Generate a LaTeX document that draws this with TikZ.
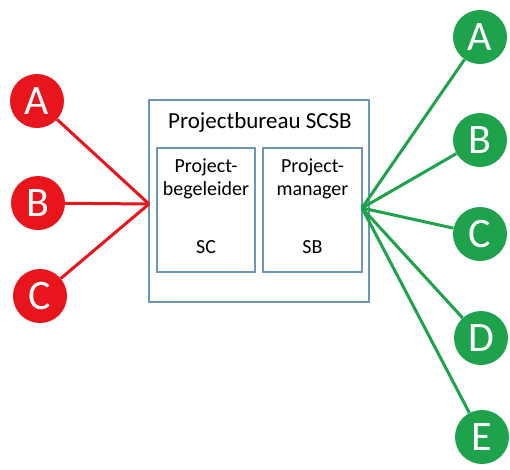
\documentclass[tikz,border=0pt]{standalone}
\usepackage{fontspec}
\setmainfont{Carlito}
\definecolor{rood}{RGB}{232,22,28}
\definecolor{groen}{RGB}{30,163,76}
\definecolor{kader}{RGB}{110,150,185}

\begin{document}
\begin{tikzpicture}[x=1pt,y=-1pt]
\tikzstyle{bol}=[circle, minimum size=54pt, inner sep=0pt, text=white,
	font=\fontsize{42}{42}\selectfont]
\tikzstyle{rbol}=[bol, fill=rood]
\tikzstyle{gbol}=[bol, fill=groen]
\tikzstyle{vak}=[draw=kader, line width=1.5pt, inner sep=0pt]
\tikzstyle{tekst}=[align=center, font=\fontsize{20}{23}\selectfont]
\tikzstyle{rlijn}=[rood, line width=3pt]
\tikzstyle{glijn}=[groen, line width=3pt]
\useasboundingbox (0,0) rectangle (510,469);
% bureau
\node[vak, minimum width=220pt, minimum height=202pt] (bureau) at (259,201) {};
\node[font=\fontsize{23}{23}\selectfont] (titel) at (260,122) {Projectbureau SCSB};
\node[vak, minimum width=98pt, minimum height=124pt] (pb) at (206,210) {};
\node[vak, minimum width=99pt, minimum height=124pt] (pm) at (312.5,210) {};
\node[tekst] (pbtxt) at (206,179) {Project-\\begeleider};
\node[tekst] (sc) at (206,247) {SC};
\node[tekst] (pmtxt) at (312.5,179) {Project-\\manager};
\node[tekst] (sb) at (312.5,247) {SB};
\coordinate (links) at (149,204);
\coordinate (rechts) at (362,208);
% rode bollen
\node[rbol] (rA) at (37,101) {A};
\node[rbol] (rB) at (38,203) {B};
\node[rbol] (rC) at (40,296) {C};
% groene bollen
\node[gbol] (gA) at (480,37) {A};
\node[gbol] (gB) at (480,140) {B};
\node[gbol] (gC) at (480,234) {C};
\node[gbol] (gD) at (481,338) {D};
\node[gbol] (gE) at (482,437) {E};
\draw[rlijn] (links) -- (rA);
\draw[rlijn] (links) -- (rB);
\draw[rlijn] (links) -- (rC);
\draw[glijn] (rechts) -- (gA);
\draw[glijn] (rechts) -- (gB);
\draw[glijn] (rechts) -- (gC);
\draw[glijn] (rechts) -- (gD);
\draw[glijn] (rechts) -- (gE);
\end{tikzpicture}
\end{document}
